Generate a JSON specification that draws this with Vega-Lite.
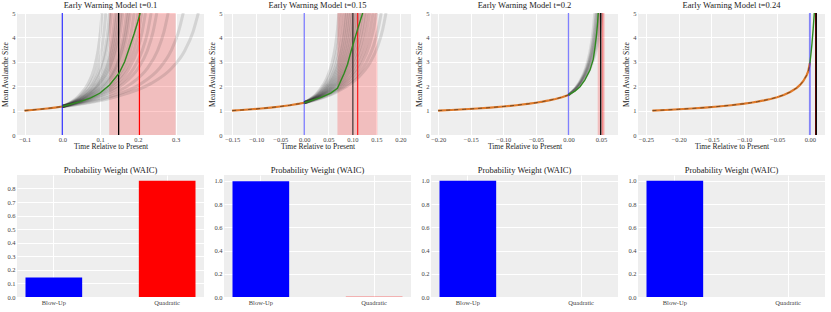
{
"$schema":"https://vega.github.io/schema/vega-lite/v6.json",
"padding":{"left":1,"top":0,"right":2,"bottom":2},
"background":"white",
"config":{
 "view":{"fill":"#EEEEEE","stroke":null},
 "font":"Liberation Serif",
 "axis":{"grid":true,"gridColor":"white","gridWidth":1,"domain":false,"ticks":false,"labelFontSize":6.5,"labelColor":"#444444","titleFontSize":7.5,"titleFontWeight":"normal","titleColor":"#222222","labelPadding":2,"labelOverlap":false,"labelFlush":false,"labelBound":false},
 "title":{"fontSize":8.5,"fontWeight":"normal","offset":1,"color":"#222222"}
},
"datasets":{
 "o1":[{"x":-0.1,"y":1.0},{"x":-0.08,"y":1.0256},{"x":-0.06,"y":1.0543},{"x":-0.04,"y":1.0868},{"x":-0.02,"y":1.1243},{"x":0,"y":1.168}],
 "o2":[{"x":-0.15,"y":1.0},{"x":-0.13,"y":1.0256},{"x":-0.11,"y":1.0543},{"x":-0.09,"y":1.0868},{"x":-0.07,"y":1.1243},{"x":-0.05,"y":1.168},{"x":-0.03,"y":1.2202},{"x":-0.01,"y":1.2843},{"x":0,"y":1.3225}],
 "o3":[{"x":-0.2,"y":1.0},{"x":-0.18,"y":1.0256},{"x":-0.16,"y":1.0543},{"x":-0.14,"y":1.0868},{"x":-0.12,"y":1.1243},{"x":-0.1,"y":1.168},{"x":-0.08,"y":1.2202},{"x":-0.06,"y":1.2843},{"x":-0.05,"y":1.3225},{"x":-0.04,"y":1.366},{"x":-0.03,"y":1.4167},{"x":-0.02,"y":1.4767},{"x":-0.01,"y":1.5494},{"x":0,"y":1.6408}],
 "o4":[{"x":-0.24,"y":1.0},{"x":-0.22,"y":1.0256},{"x":-0.2,"y":1.0543},{"x":-0.18,"y":1.0868},{"x":-0.16,"y":1.1243},{"x":-0.14,"y":1.168},{"x":-0.12,"y":1.2202},{"x":-0.1,"y":1.2843},{"x":-0.09,"y":1.3225},{"x":-0.08,"y":1.366},{"x":-0.07,"y":1.4167},{"x":-0.06,"y":1.4767},{"x":-0.05,"y":1.5494},{"x":-0.04,"y":1.6408},{"x":-0.03,"y":1.7615},{"x":-0.02,"y":1.9332},{"x":-0.015,"y":2.0533},{"x":-0.01,"y":2.2139},{"x":-0.005,"y":2.4491},{"x":-0.0025,"y":2.6185},{"x":0,"y":2.95}],
 "g1":[{"x":0,"y":1.168},{"x":0.047,"y":1.37},{"x":0.075,"y":1.52},{"x":0.099,"y":1.71},{"x":0.125,"y":2.05},{"x":0.15,"y":2.53},{"x":0.165,"y":3.0},{"x":0.178,"y":3.6},{"x":0.19,"y":4.15},{"x":0.2,"y":4.65},{"x":0.206,"y":5.0}],
 "g2":[{"x":0,"y":1.3225},{"x":0.035,"y":1.54},{"x":0.055,"y":1.72},{"x":0.069,"y":1.91},{"x":0.083,"y":2.53},{"x":0.09,"y":2.9},{"x":0.097,"y":3.41},{"x":0.105,"y":3.95},{"x":0.112,"y":4.4},{"x":0.1215,"y":5.0}],
 "g3":[{"x":0,"y":1.6408},{"x":0.01,"y":1.8},{"x":0.0177,"y":1.98},{"x":0.025,"y":2.25},{"x":0.033,"y":2.66},{"x":0.038,"y":3.1},{"x":0.0407,"y":3.6},{"x":0.043,"y":4.1},{"x":0.0447,"y":4.6},{"x":0.0457,"y":5.0}],
 "g4":[{"x":0,"y":2.95},{"x":0.0015,"y":3.3},{"x":0.0032,"y":3.76},{"x":0.005,"y":4.35},{"x":0.0067,"y":5.0}],
 "f1":[
{"s":1,"x":0,"y":1.168},{"s":1,"x":0.042,"y":1.579},{"s":1,"x":0.06825,"y":2.104},{"s":1,"x":0.084,"y":2.713},{"s":1,"x":0.0945,"y":3.454},{"s":1,"x":0.1008,"y":4.213},{"s":1,"x":0.105,"y":5.0},
{"s":2,"x":0,"y":1.168},{"s":2,"x":0.046,"y":1.579},{"s":2,"x":0.07475,"y":2.104},{"s":2,"x":0.092,"y":2.713},{"s":2,"x":0.1035,"y":3.454},{"s":2,"x":0.1104,"y":4.213},{"s":2,"x":0.115,"y":5.0},
{"s":3,"x":0,"y":1.168},{"s":3,"x":0.05,"y":1.579},{"s":3,"x":0.08125,"y":2.104},{"s":3,"x":0.1,"y":2.713},{"s":3,"x":0.1125,"y":3.454},{"s":3,"x":0.12,"y":4.213},{"s":3,"x":0.125,"y":5.0},
{"s":4,"x":0,"y":1.168},{"s":4,"x":0.052,"y":1.579},{"s":4,"x":0.0845,"y":2.104},{"s":4,"x":0.104,"y":2.713},{"s":4,"x":0.117,"y":3.454},{"s":4,"x":0.1248,"y":4.213},{"s":4,"x":0.13,"y":5.0},
{"s":5,"x":0,"y":1.168},{"s":5,"x":0.056,"y":1.579},{"s":5,"x":0.091,"y":2.104},{"s":5,"x":0.112,"y":2.713},{"s":5,"x":0.126,"y":3.454},{"s":5,"x":0.1344,"y":4.213},{"s":5,"x":0.14,"y":5.0},
{"s":6,"x":0,"y":1.168},{"s":6,"x":0.058,"y":1.579},{"s":6,"x":0.09425,"y":2.104},{"s":6,"x":0.116,"y":2.713},{"s":6,"x":0.1305,"y":3.454},{"s":6,"x":0.1392,"y":4.213},{"s":6,"x":0.145,"y":5.0},
{"s":7,"x":0,"y":1.168},{"s":7,"x":0.06,"y":1.579},{"s":7,"x":0.0975,"y":2.104},{"s":7,"x":0.12,"y":2.713},{"s":7,"x":0.135,"y":3.454},{"s":7,"x":0.144,"y":4.213},{"s":7,"x":0.15,"y":5.0},
{"s":8,"x":0,"y":1.168},{"s":8,"x":0.062,"y":1.579},{"s":8,"x":0.10075,"y":2.104},{"s":8,"x":0.124,"y":2.713},{"s":8,"x":0.1395,"y":3.454},{"s":8,"x":0.1488,"y":4.213},{"s":8,"x":0.155,"y":5.0},
{"s":9,"x":0,"y":1.168},{"s":9,"x":0.064,"y":1.579},{"s":9,"x":0.104,"y":2.104},{"s":9,"x":0.128,"y":2.713},{"s":9,"x":0.144,"y":3.454},{"s":9,"x":0.1536,"y":4.213},{"s":9,"x":0.16,"y":5.0},
{"s":10,"x":0,"y":1.168},{"s":10,"x":0.068,"y":1.579},{"s":10,"x":0.1105,"y":2.104},{"s":10,"x":0.136,"y":2.713},{"s":10,"x":0.153,"y":3.454},{"s":10,"x":0.1632,"y":4.213},{"s":10,"x":0.17,"y":5.0},
{"s":11,"x":0,"y":1.168},{"s":11,"x":0.07,"y":1.579},{"s":11,"x":0.11375,"y":2.104},{"s":11,"x":0.14,"y":2.713},{"s":11,"x":0.1575,"y":3.454},{"s":11,"x":0.168,"y":4.213},{"s":11,"x":0.175,"y":5.0},
{"s":12,"x":0,"y":1.168},{"s":12,"x":0.072,"y":1.579},{"s":12,"x":0.117,"y":2.104},{"s":12,"x":0.144,"y":2.713},{"s":12,"x":0.162,"y":3.454},{"s":12,"x":0.1728,"y":4.213},{"s":12,"x":0.18,"y":5.0},
{"s":13,"x":0,"y":1.168},{"s":13,"x":0.076,"y":1.579},{"s":13,"x":0.1235,"y":2.104},{"s":13,"x":0.152,"y":2.713},{"s":13,"x":0.171,"y":3.454},{"s":13,"x":0.1824,"y":4.213},{"s":13,"x":0.19,"y":5.0},
{"s":14,"x":0,"y":1.168},{"s":14,"x":0.08,"y":1.579},{"s":14,"x":0.13,"y":2.104},{"s":14,"x":0.16,"y":2.713},{"s":14,"x":0.18,"y":3.454},{"s":14,"x":0.192,"y":4.213},{"s":14,"x":0.2,"y":5.0},
{"s":15,"x":0,"y":1.168},{"s":15,"x":0.084,"y":1.579},{"s":15,"x":0.1365,"y":2.104},{"s":15,"x":0.168,"y":2.713},{"s":15,"x":0.189,"y":3.454},{"s":15,"x":0.2016,"y":4.213},{"s":15,"x":0.21,"y":5.0},
{"s":16,"x":0,"y":1.168},{"s":16,"x":0.088,"y":1.579},{"s":16,"x":0.143,"y":2.104},{"s":16,"x":0.176,"y":2.713},{"s":16,"x":0.198,"y":3.454},{"s":16,"x":0.2112,"y":4.213},{"s":16,"x":0.22,"y":5.0},
{"s":17,"x":0,"y":1.168},{"s":17,"x":0.094,"y":1.579},{"s":17,"x":0.15275,"y":2.104},{"s":17,"x":0.188,"y":2.713},{"s":17,"x":0.2115,"y":3.454},{"s":17,"x":0.2256,"y":4.213},{"s":17,"x":0.235,"y":5.0},
{"s":18,"x":0,"y":1.168},{"s":18,"x":0.1,"y":1.579},{"s":18,"x":0.1625,"y":2.104},{"s":18,"x":0.2,"y":2.713},{"s":18,"x":0.225,"y":3.454},{"s":18,"x":0.24,"y":4.213},{"s":18,"x":0.25,"y":5.0},
{"s":19,"x":0,"y":1.168},{"s":19,"x":0.112,"y":1.579},{"s":19,"x":0.182,"y":2.104},{"s":19,"x":0.224,"y":2.713},{"s":19,"x":0.252,"y":3.454},{"s":19,"x":0.2688,"y":4.213},{"s":19,"x":0.28,"y":5.0},
{"s":20,"x":0,"y":1.168},{"s":20,"x":0.128,"y":1.579},{"s":20,"x":0.208,"y":2.104},{"s":20,"x":0.256,"y":2.713},{"s":20,"x":0.288,"y":3.454},{"s":20,"x":0.3072,"y":4.213},{"s":20,"x":0.32,"y":5.0},
{"s":21,"x":0,"y":1.168},{"s":21,"x":0.144,"y":1.579},{"s":21,"x":0.234,"y":2.104},{"s":21,"x":0.288,"y":2.713},{"s":21,"x":0.324,"y":3.454},{"s":21,"x":0.3456,"y":4.213},{"s":21,"x":0.36,"y":5.0}
 ],
 "f2":[
{"s":1,"x":0,"y":1.3225},{"s":1,"x":0.0288,"y":1.769},{"s":1,"x":0.0468,"y":2.323},{"s":1,"x":0.0576,"y":2.938},{"s":1,"x":0.0648,"y":3.649},{"s":1,"x":0.06912,"y":4.332},{"s":1,"x":0.072,"y":5.0},
{"s":2,"x":0,"y":1.3225},{"s":2,"x":0.0312,"y":1.769},{"s":2,"x":0.0507,"y":2.323},{"s":2,"x":0.0624,"y":2.938},{"s":2,"x":0.0702,"y":3.649},{"s":2,"x":0.07488,"y":4.332},{"s":2,"x":0.078,"y":5.0},
{"s":3,"x":0,"y":1.3225},{"s":3,"x":0.0336,"y":1.769},{"s":3,"x":0.0546,"y":2.323},{"s":3,"x":0.0672,"y":2.938},{"s":3,"x":0.0756,"y":3.649},{"s":3,"x":0.08064,"y":4.332},{"s":3,"x":0.084,"y":5.0},
{"s":4,"x":0,"y":1.3225},{"s":4,"x":0.0352,"y":1.769},{"s":4,"x":0.0572,"y":2.323},{"s":4,"x":0.0704,"y":2.938},{"s":4,"x":0.0792,"y":3.649},{"s":4,"x":0.08448,"y":4.332},{"s":4,"x":0.088,"y":5.0},
{"s":5,"x":0,"y":1.3225},{"s":5,"x":0.0368,"y":1.769},{"s":5,"x":0.0598,"y":2.323},{"s":5,"x":0.0736,"y":2.938},{"s":5,"x":0.0828,"y":3.649},{"s":5,"x":0.08832,"y":4.332},{"s":5,"x":0.092,"y":5.0},
{"s":6,"x":0,"y":1.3225},{"s":6,"x":0.0384,"y":1.769},{"s":6,"x":0.0624,"y":2.323},{"s":6,"x":0.0768,"y":2.938},{"s":6,"x":0.0864,"y":3.649},{"s":6,"x":0.09216,"y":4.332},{"s":6,"x":0.096,"y":5.0},
{"s":7,"x":0,"y":1.3225},{"s":7,"x":0.04,"y":1.769},{"s":7,"x":0.065,"y":2.323},{"s":7,"x":0.08,"y":2.938},{"s":7,"x":0.09,"y":3.649},{"s":7,"x":0.096,"y":4.332},{"s":7,"x":0.1,"y":5.0},
{"s":8,"x":0,"y":1.3225},{"s":8,"x":0.0416,"y":1.769},{"s":8,"x":0.0676,"y":2.323},{"s":8,"x":0.0832,"y":2.938},{"s":8,"x":0.0936,"y":3.649},{"s":8,"x":0.09984,"y":4.332},{"s":8,"x":0.104,"y":5.0},
{"s":9,"x":0,"y":1.3225},{"s":9,"x":0.0432,"y":1.769},{"s":9,"x":0.0702,"y":2.323},{"s":9,"x":0.0864,"y":2.938},{"s":9,"x":0.0972,"y":3.649},{"s":9,"x":0.10368,"y":4.332},{"s":9,"x":0.108,"y":5.0},
{"s":10,"x":0,"y":1.3225},{"s":10,"x":0.0448,"y":1.769},{"s":10,"x":0.0728,"y":2.323},{"s":10,"x":0.0896,"y":2.938},{"s":10,"x":0.1008,"y":3.649},{"s":10,"x":0.10752,"y":4.332},{"s":10,"x":0.112,"y":5.0},
{"s":11,"x":0,"y":1.3225},{"s":11,"x":0.0464,"y":1.769},{"s":11,"x":0.0754,"y":2.323},{"s":11,"x":0.0928,"y":2.938},{"s":11,"x":0.1044,"y":3.649},{"s":11,"x":0.11136,"y":4.332},{"s":11,"x":0.116,"y":5.0},
{"s":12,"x":0,"y":1.3225},{"s":12,"x":0.048,"y":1.769},{"s":12,"x":0.078,"y":2.323},{"s":12,"x":0.096,"y":2.938},{"s":12,"x":0.108,"y":3.649},{"s":12,"x":0.1152,"y":4.332},{"s":12,"x":0.12,"y":5.0},
{"s":13,"x":0,"y":1.3225},{"s":13,"x":0.05,"y":1.769},{"s":13,"x":0.08125,"y":2.323},{"s":13,"x":0.1,"y":2.938},{"s":13,"x":0.1125,"y":3.649},{"s":13,"x":0.12,"y":4.332},{"s":13,"x":0.125,"y":5.0},
{"s":14,"x":0,"y":1.3225},{"s":14,"x":0.052,"y":1.769},{"s":14,"x":0.0845,"y":2.323},{"s":14,"x":0.104,"y":2.938},{"s":14,"x":0.117,"y":3.649},{"s":14,"x":0.1248,"y":4.332},{"s":14,"x":0.13,"y":5.0},
{"s":15,"x":0,"y":1.3225},{"s":15,"x":0.0544,"y":1.769},{"s":15,"x":0.0884,"y":2.323},{"s":15,"x":0.1088,"y":2.938},{"s":15,"x":0.1224,"y":3.649},{"s":15,"x":0.13056,"y":4.332},{"s":15,"x":0.136,"y":5.0},
{"s":16,"x":0,"y":1.3225},{"s":16,"x":0.0572,"y":1.769},{"s":16,"x":0.09295,"y":2.323},{"s":16,"x":0.1144,"y":2.938},{"s":16,"x":0.1287,"y":3.649},{"s":16,"x":0.13728,"y":4.332},{"s":16,"x":0.143,"y":5.0},
{"s":17,"x":0,"y":1.3225},{"s":17,"x":0.06,"y":1.769},{"s":17,"x":0.0975,"y":2.323},{"s":17,"x":0.12,"y":2.938},{"s":17,"x":0.135,"y":3.649},{"s":17,"x":0.144,"y":4.332},{"s":17,"x":0.15,"y":5.0},
{"s":18,"x":0,"y":1.3225},{"s":18,"x":0.064,"y":1.769},{"s":18,"x":0.104,"y":2.323},{"s":18,"x":0.128,"y":2.938},{"s":18,"x":0.144,"y":3.649},{"s":18,"x":0.1536,"y":4.332},{"s":18,"x":0.16,"y":5.0},
{"s":19,"x":0,"y":1.3225},{"s":19,"x":0.068,"y":1.769},{"s":19,"x":0.1105,"y":2.323},{"s":19,"x":0.136,"y":2.938},{"s":19,"x":0.153,"y":3.649},{"s":19,"x":0.1632,"y":4.332},{"s":19,"x":0.17,"y":5.0}
 ],
 "f3":[
{"s":1,"x":0,"y":1.6408},{"s":1,"x":0.016,"y":2.146},{"s":1,"x":0.026,"y":2.735},{"s":1,"x":0.032,"y":3.338},{"s":1,"x":0.036,"y":3.97},{"s":1,"x":0.0384,"y":4.519},{"s":1,"x":0.04,"y":5.0},
{"s":2,"x":0,"y":1.6408},{"s":2,"x":0.0168,"y":2.146},{"s":2,"x":0.0273,"y":2.735},{"s":2,"x":0.0336,"y":3.338},{"s":2,"x":0.0378,"y":3.97},{"s":2,"x":0.04032,"y":4.519},{"s":2,"x":0.042,"y":5.0},
{"s":3,"x":0,"y":1.6408},{"s":3,"x":0.0172,"y":2.146},{"s":3,"x":0.02795,"y":2.735},{"s":3,"x":0.0344,"y":3.338},{"s":3,"x":0.0387,"y":3.97},{"s":3,"x":0.04128,"y":4.519},{"s":3,"x":0.043,"y":5.0},
{"s":4,"x":0,"y":1.6408},{"s":4,"x":0.0176,"y":2.146},{"s":4,"x":0.0286,"y":2.735},{"s":4,"x":0.0352,"y":3.338},{"s":4,"x":0.0396,"y":3.97},{"s":4,"x":0.04224,"y":4.519},{"s":4,"x":0.044,"y":5.0},
{"s":5,"x":0,"y":1.6408},{"s":5,"x":0.018,"y":2.146},{"s":5,"x":0.02925,"y":2.735},{"s":5,"x":0.036,"y":3.338},{"s":5,"x":0.0405,"y":3.97},{"s":5,"x":0.0432,"y":4.519},{"s":5,"x":0.045,"y":5.0},
{"s":6,"x":0,"y":1.6408},{"s":6,"x":0.0184,"y":2.146},{"s":6,"x":0.0299,"y":2.735},{"s":6,"x":0.0368,"y":3.338},{"s":6,"x":0.0414,"y":3.97},{"s":6,"x":0.04416,"y":4.519},{"s":6,"x":0.046,"y":5.0},
{"s":7,"x":0,"y":1.6408},{"s":7,"x":0.0188,"y":2.146},{"s":7,"x":0.03055,"y":2.735},{"s":7,"x":0.0376,"y":3.338},{"s":7,"x":0.0423,"y":3.97},{"s":7,"x":0.04512,"y":4.519},{"s":7,"x":0.047,"y":5.0},
{"s":8,"x":0,"y":1.6408},{"s":8,"x":0.0192,"y":2.146},{"s":8,"x":0.0312,"y":2.735},{"s":8,"x":0.0384,"y":3.338},{"s":8,"x":0.0432,"y":3.97},{"s":8,"x":0.04608,"y":4.519},{"s":8,"x":0.048,"y":5.0},
{"s":9,"x":0,"y":1.6408},{"s":9,"x":0.02,"y":2.146},{"s":9,"x":0.0325,"y":2.735},{"s":9,"x":0.04,"y":3.338},{"s":9,"x":0.045,"y":3.97},{"s":9,"x":0.048,"y":4.519},{"s":9,"x":0.05,"y":5.0},
{"s":10,"x":0,"y":1.6408},{"s":10,"x":0.0208,"y":2.146},{"s":10,"x":0.0338,"y":2.735},{"s":10,"x":0.0416,"y":3.338},{"s":10,"x":0.0468,"y":3.97},{"s":10,"x":0.04992,"y":4.519},{"s":10,"x":0.052,"y":5.0}
 ]
},
"spacing":15,
"vconcat":[
{"hconcat":[
 {"width":187,"height":122,"title":"Early Warning Model t=0.1",
  "layer":[
   {"data":{"values":[{"x":0.124,"xe":0.3}]},"mark":{"type":"rect","color":"red","opacity":0.2},
    "encoding":{"x":{"field":"x","type":"quantitative","scale":{"domain":[-0.12,0.375],"nice":false,"zero":false},"axis":{"title":"Time Relative to Present","values":[-0.1,0,0.1,0.2,0.3],"format":".1f","titlePadding":0,"labelPadding":1,"labelOverlap":false}},"x2":{"field":"xe"},
     "y":{"datum":0,"type":"quantitative","scale":{"domain":[0,5],"nice":false},"axis":{"title":"Mean Avalanche Size","values":[0,1,2,3,4,5],"titlePadding":2,"labelOverlap":false}},"y2":{"datum":5}}},
   {"data":{"name":"f1"},"mark":{"type":"line","color":"#333333","opacity":0.14,"strokeWidth":3,"interpolate":"monotone","clip":true},
    "encoding":{"x":{"field":"x","type":"quantitative","scale":{"domain":[-0.12,0.375],"nice":false,"zero":false},"axis":{"title":"Time Relative to Present","values":[-0.1,0,0.1,0.2,0.3],"format":".1f","titlePadding":0,"labelPadding":1,"labelOverlap":false}},
     "y":{"field":"y","type":"quantitative","scale":{"domain":[0,5],"nice":false},"axis":{"title":"Mean Avalanche Size","values":[0,1,2,3,4,5],"titlePadding":2,"labelOverlap":false}},"detail":{"field":"s"}}},
   {"data":{"name":"o1"},"mark":{"type":"line","color":"#e07a2a","strokeWidth":2.2},
    "encoding":{"x":{"field":"x","type":"quantitative","scale":{"domain":[-0.12,0.375],"nice":false,"zero":false},"axis":{"title":"Time Relative to Present","values":[-0.1,0,0.1,0.2,0.3],"format":".1f","titlePadding":0,"labelPadding":1,"labelOverlap":false}},
     "y":{"field":"y","type":"quantitative","scale":{"domain":[0,5],"nice":false},"axis":{"title":"Mean Avalanche Size","values":[0,1,2,3,4,5],"titlePadding":2,"labelOverlap":false}}}},
   {"data":{"name":"o1"},"mark":{"type":"line","color":"#7a4a20","strokeWidth":1,"strokeDash":[4,4]},
    "encoding":{"x":{"field":"x","type":"quantitative","scale":{"domain":[-0.12,0.375],"nice":false,"zero":false},"axis":{"title":"Time Relative to Present","values":[-0.1,0,0.1,0.2,0.3],"format":".1f","titlePadding":0,"labelPadding":1,"labelOverlap":false}},
     "y":{"field":"y","type":"quantitative","scale":{"domain":[0,5],"nice":false},"axis":{"title":"Mean Avalanche Size","values":[0,1,2,3,4,5],"titlePadding":2,"labelOverlap":false}}}},
   {"data":{"values":[{"x":0}]},"mark":{"type":"rule","color":"blue","opacity":0.75,"strokeWidth":1.3},
    "encoding":{"x":{"field":"x","type":"quantitative","scale":{"domain":[-0.12,0.375],"nice":false,"zero":false},"axis":{"title":"Time Relative to Present","values":[-0.1,0,0.1,0.2,0.3],"format":".1f","titlePadding":0,"labelPadding":1,"labelOverlap":false}}}},
   {"data":{"values":[{"x":0.149}]},"mark":{"type":"rule","color":"black","strokeWidth":1.3},
    "encoding":{"x":{"field":"x","type":"quantitative","scale":{"domain":[-0.12,0.375],"nice":false,"zero":false},"axis":{"title":"Time Relative to Present","values":[-0.1,0,0.1,0.2,0.3],"format":".1f","titlePadding":0,"labelPadding":1,"labelOverlap":false}}}},
   {"data":{"values":[{"x":0.204}]},"mark":{"type":"rule","color":"red","strokeWidth":1.3},
    "encoding":{"x":{"field":"x","type":"quantitative","scale":{"domain":[-0.12,0.375],"nice":false,"zero":false},"axis":{"title":"Time Relative to Present","values":[-0.1,0,0.1,0.2,0.3],"format":".1f","titlePadding":0,"labelPadding":1,"labelOverlap":false}}}},
   {"data":{"name":"g1"},"mark":{"type":"line","color":"#2f8a1f","strokeWidth":1.4,"clip":true},
    "encoding":{"x":{"field":"x","type":"quantitative","scale":{"domain":[-0.12,0.375],"nice":false,"zero":false},"axis":{"title":"Time Relative to Present","values":[-0.1,0,0.1,0.2,0.3],"format":".1f","titlePadding":0,"labelPadding":1,"labelOverlap":false}},
     "y":{"field":"y","type":"quantitative","scale":{"domain":[0,5],"nice":false},"axis":{"title":"Mean Avalanche Size","values":[0,1,2,3,4,5],"titlePadding":2,"labelOverlap":false}}}}
  ]},
 {"width":187,"height":122,"title":"Early Warning Model t=0.15",
  "layer":[
   {"data":{"values":[{"x":0.069,"xe":0.152}]},"mark":{"type":"rect","color":"red","opacity":0.2},
    "encoding":{"x":{"field":"x","type":"quantitative","scale":{"domain":[-0.167,0.222],"nice":false,"zero":false},"axis":{"title":"Time Relative to Present","values":[-0.15,-0.1,-0.05,0,0.05,0.1,0.15,0.2],"format":".2f","titlePadding":0,"labelPadding":1,"labelOverlap":false}},"x2":{"field":"xe"},
     "y":{"datum":0,"type":"quantitative","scale":{"domain":[0,5],"nice":false},"axis":{"title":"Mean Avalanche Size","values":[0,1,2,3,4,5],"titlePadding":2,"labelOverlap":false}},"y2":{"datum":5}}},
   {"data":{"name":"f2"},"mark":{"type":"line","color":"#333333","opacity":0.14,"strokeWidth":3,"interpolate":"monotone","clip":true},
    "encoding":{"x":{"field":"x","type":"quantitative","scale":{"domain":[-0.167,0.222],"nice":false,"zero":false},"axis":{"title":"Time Relative to Present","values":[-0.15,-0.1,-0.05,0,0.05,0.1,0.15,0.2],"format":".2f","titlePadding":0,"labelPadding":1,"labelOverlap":false}},
     "y":{"field":"y","type":"quantitative","scale":{"domain":[0,5],"nice":false},"axis":{"title":"Mean Avalanche Size","values":[0,1,2,3,4,5],"titlePadding":2,"labelOverlap":false}},"detail":{"field":"s"}}},
   {"data":{"name":"o2"},"mark":{"type":"line","color":"#e07a2a","strokeWidth":2.2},
    "encoding":{"x":{"field":"x","type":"quantitative","scale":{"domain":[-0.167,0.222],"nice":false,"zero":false},"axis":{"title":"Time Relative to Present","values":[-0.15,-0.1,-0.05,0,0.05,0.1,0.15,0.2],"format":".2f","titlePadding":0,"labelPadding":1,"labelOverlap":false}},
     "y":{"field":"y","type":"quantitative","scale":{"domain":[0,5],"nice":false},"axis":{"title":"Mean Avalanche Size","values":[0,1,2,3,4,5],"titlePadding":2,"labelOverlap":false}}}},
   {"data":{"name":"o2"},"mark":{"type":"line","color":"#7a4a20","strokeWidth":1,"strokeDash":[4,4]},
    "encoding":{"x":{"field":"x","type":"quantitative","scale":{"domain":[-0.167,0.222],"nice":false,"zero":false},"axis":{"title":"Time Relative to Present","values":[-0.15,-0.1,-0.05,0,0.05,0.1,0.15,0.2],"format":".2f","titlePadding":0,"labelPadding":1,"labelOverlap":false}},
     "y":{"field":"y","type":"quantitative","scale":{"domain":[0,5],"nice":false},"axis":{"title":"Mean Avalanche Size","values":[0,1,2,3,4,5],"titlePadding":2,"labelOverlap":false}}}},
   {"data":{"values":[{"x":0}]},"mark":{"type":"rule","color":"blue","opacity":0.5,"strokeWidth":1.3},
    "encoding":{"x":{"field":"x","type":"quantitative","scale":{"domain":[-0.167,0.222],"nice":false,"zero":false},"axis":{"title":"Time Relative to Present","values":[-0.15,-0.1,-0.05,0,0.05,0.1,0.15,0.2],"format":".2f","titlePadding":0,"labelPadding":1,"labelOverlap":false}}}},
   {"data":{"values":[{"x":0.101}]},"mark":{"type":"rule","color":"black","opacity":0.7,"strokeWidth":1.3},
    "encoding":{"x":{"field":"x","type":"quantitative","scale":{"domain":[-0.167,0.222],"nice":false,"zero":false},"axis":{"title":"Time Relative to Present","values":[-0.15,-0.1,-0.05,0,0.05,0.1,0.15,0.2],"format":".2f","titlePadding":0,"labelPadding":1,"labelOverlap":false}}}},
   {"data":{"values":[{"x":0.111}]},"mark":{"type":"rule","color":"red","opacity":0.8,"strokeWidth":1.3},
    "encoding":{"x":{"field":"x","type":"quantitative","scale":{"domain":[-0.167,0.222],"nice":false,"zero":false},"axis":{"title":"Time Relative to Present","values":[-0.15,-0.1,-0.05,0,0.05,0.1,0.15,0.2],"format":".2f","titlePadding":0,"labelPadding":1,"labelOverlap":false}}}},
   {"data":{"name":"g2"},"mark":{"type":"line","color":"#2f8a1f","strokeWidth":1.4,"clip":true},
    "encoding":{"x":{"field":"x","type":"quantitative","scale":{"domain":[-0.167,0.222],"nice":false,"zero":false},"axis":{"title":"Time Relative to Present","values":[-0.15,-0.1,-0.05,0,0.05,0.1,0.15,0.2],"format":".2f","titlePadding":0,"labelPadding":1,"labelOverlap":false}},
     "y":{"field":"y","type":"quantitative","scale":{"domain":[0,5],"nice":false},"axis":{"title":"Mean Avalanche Size","values":[0,1,2,3,4,5],"titlePadding":2,"labelOverlap":false}}}}
  ]},
 {"width":187,"height":122,"title":"Early Warning Model t=0.2",
  "layer":[
   {"data":{"values":[{"x":0.0448,"xe":0.0555}]},"mark":{"type":"rect","color":"red","opacity":0.2},
    "encoding":{"x":{"field":"x","type":"quantitative","scale":{"domain":[-0.211,0.076],"nice":false,"zero":false},"axis":{"title":"Time Relative to Present","values":[-0.2,-0.15,-0.1,-0.05,0,0.05],"format":".2f","titlePadding":0,"labelPadding":1,"labelOverlap":false}},"x2":{"field":"xe"},
     "y":{"datum":0,"type":"quantitative","scale":{"domain":[0,5],"nice":false},"axis":{"title":"Mean Avalanche Size","values":[0,1,2,3,4,5],"titlePadding":2,"labelOverlap":false}},"y2":{"datum":5}}},
   {"data":{"name":"f3"},"mark":{"type":"line","color":"#333333","opacity":0.12,"strokeWidth":2.5,"interpolate":"monotone","clip":true},
    "encoding":{"x":{"field":"x","type":"quantitative","scale":{"domain":[-0.211,0.076],"nice":false,"zero":false},"axis":{"title":"Time Relative to Present","values":[-0.2,-0.15,-0.1,-0.05,0,0.05],"format":".2f","titlePadding":0,"labelPadding":1,"labelOverlap":false}},
     "y":{"field":"y","type":"quantitative","scale":{"domain":[0,5],"nice":false},"axis":{"title":"Mean Avalanche Size","values":[0,1,2,3,4,5],"titlePadding":2,"labelOverlap":false}},"detail":{"field":"s"}}},
   {"data":{"name":"o3"},"mark":{"type":"line","color":"#e07a2a","strokeWidth":2.2},
    "encoding":{"x":{"field":"x","type":"quantitative","scale":{"domain":[-0.211,0.076],"nice":false,"zero":false},"axis":{"title":"Time Relative to Present","values":[-0.2,-0.15,-0.1,-0.05,0,0.05],"format":".2f","titlePadding":0,"labelPadding":1,"labelOverlap":false}},
     "y":{"field":"y","type":"quantitative","scale":{"domain":[0,5],"nice":false},"axis":{"title":"Mean Avalanche Size","values":[0,1,2,3,4,5],"titlePadding":2,"labelOverlap":false}}}},
   {"data":{"name":"o3"},"mark":{"type":"line","color":"#7a4a20","strokeWidth":1,"strokeDash":[4,4]},
    "encoding":{"x":{"field":"x","type":"quantitative","scale":{"domain":[-0.211,0.076],"nice":false,"zero":false},"axis":{"title":"Time Relative to Present","values":[-0.2,-0.15,-0.1,-0.05,0,0.05],"format":".2f","titlePadding":0,"labelPadding":1,"labelOverlap":false}},
     "y":{"field":"y","type":"quantitative","scale":{"domain":[0,5],"nice":false},"axis":{"title":"Mean Avalanche Size","values":[0,1,2,3,4,5],"titlePadding":2,"labelOverlap":false}}}},
   {"data":{"values":[{"x":0}]},"mark":{"type":"rule","color":"blue","opacity":0.5,"strokeWidth":1.3},
    "encoding":{"x":{"field":"x","type":"quantitative","scale":{"domain":[-0.211,0.076],"nice":false,"zero":false},"axis":{"title":"Time Relative to Present","values":[-0.2,-0.15,-0.1,-0.05,0,0.05],"format":".2f","titlePadding":0,"labelPadding":1,"labelOverlap":false}}}},
   {"data":{"values":[{"x":0.0525}]},"mark":{"type":"rule","color":"red","opacity":0.3,"strokeWidth":1.3},
    "encoding":{"x":{"field":"x","type":"quantitative","scale":{"domain":[-0.211,0.076],"nice":false,"zero":false},"axis":{"title":"Time Relative to Present","values":[-0.2,-0.15,-0.1,-0.05,0,0.05],"format":".2f","titlePadding":0,"labelPadding":1,"labelOverlap":false}}}},
   {"data":{"values":[{"x":0.0495}]},"mark":{"type":"rule","color":"black","strokeWidth":1.3},
    "encoding":{"x":{"field":"x","type":"quantitative","scale":{"domain":[-0.211,0.076],"nice":false,"zero":false},"axis":{"title":"Time Relative to Present","values":[-0.2,-0.15,-0.1,-0.05,0,0.05],"format":".2f","titlePadding":0,"labelPadding":1,"labelOverlap":false}}}},
   {"data":{"name":"g3"},"mark":{"type":"line","color":"#2f8a1f","strokeWidth":1.4,"clip":true},
    "encoding":{"x":{"field":"x","type":"quantitative","scale":{"domain":[-0.211,0.076],"nice":false,"zero":false},"axis":{"title":"Time Relative to Present","values":[-0.2,-0.15,-0.1,-0.05,0,0.05],"format":".2f","titlePadding":0,"labelPadding":1,"labelOverlap":false}},
     "y":{"field":"y","type":"quantitative","scale":{"domain":[0,5],"nice":false},"axis":{"title":"Mean Avalanche Size","values":[0,1,2,3,4,5],"titlePadding":2,"labelOverlap":false}}}}
  ]},
 {"width":187,"height":122,"title":"Early Warning Model t=0.24",
  "layer":[
   {"data":{"values":[{"x":0.0085,"xe":0.0105}]},"mark":{"type":"rect","color":"red","opacity":0.2},
    "encoding":{"x":{"field":"x","type":"quantitative","scale":{"domain":[-0.262,0.023],"nice":false,"zero":false},"axis":{"title":"Time Relative to Present","values":[-0.25,-0.2,-0.15,-0.1,-0.05,0],"format":".2f","titlePadding":0,"labelPadding":1,"labelOverlap":false}},"x2":{"field":"xe"},
     "y":{"datum":0,"type":"quantitative","scale":{"domain":[0,5],"nice":false},"axis":{"title":"Mean Avalanche Size","values":[0,1,2,3,4,5],"titlePadding":2,"labelOverlap":false}},"y2":{"datum":5}}},
   {"data":{"name":"o4"},"mark":{"type":"line","color":"#e07a2a","strokeWidth":2.2},
    "encoding":{"x":{"field":"x","type":"quantitative","scale":{"domain":[-0.262,0.023],"nice":false,"zero":false},"axis":{"title":"Time Relative to Present","values":[-0.25,-0.2,-0.15,-0.1,-0.05,0],"format":".2f","titlePadding":0,"labelPadding":1,"labelOverlap":false}},
     "y":{"field":"y","type":"quantitative","scale":{"domain":[0,5],"nice":false},"axis":{"title":"Mean Avalanche Size","values":[0,1,2,3,4,5],"titlePadding":2,"labelOverlap":false}}}},
   {"data":{"name":"o4"},"mark":{"type":"line","color":"#7a4a20","strokeWidth":1,"strokeDash":[4,4]},
    "encoding":{"x":{"field":"x","type":"quantitative","scale":{"domain":[-0.262,0.023],"nice":false,"zero":false},"axis":{"title":"Time Relative to Present","values":[-0.25,-0.2,-0.15,-0.1,-0.05,0],"format":".2f","titlePadding":0,"labelPadding":1,"labelOverlap":false}},
     "y":{"field":"y","type":"quantitative","scale":{"domain":[0,5],"nice":false},"axis":{"title":"Mean Avalanche Size","values":[0,1,2,3,4,5],"titlePadding":2,"labelOverlap":false}}}},
   {"data":{"values":[{"x":0}]},"mark":{"type":"rule","color":"blue","opacity":0.45,"strokeWidth":2},
    "encoding":{"x":{"field":"x","type":"quantitative","scale":{"domain":[-0.262,0.023],"nice":false,"zero":false},"axis":{"title":"Time Relative to Present","values":[-0.25,-0.2,-0.15,-0.1,-0.05,0],"format":".2f","titlePadding":0,"labelPadding":1,"labelOverlap":false}}}},
   {"data":{"values":[{"x":0.0088}]},"mark":{"type":"rule","color":"#8b0000","strokeWidth":1.3},
    "encoding":{"x":{"field":"x","type":"quantitative","scale":{"domain":[-0.262,0.023],"nice":false,"zero":false},"axis":{"title":"Time Relative to Present","values":[-0.25,-0.2,-0.15,-0.1,-0.05,0],"format":".2f","titlePadding":0,"labelPadding":1,"labelOverlap":false}}}},
   {"data":{"values":[{"x":0.0097}]},"mark":{"type":"rule","color":"black","strokeWidth":1.3},
    "encoding":{"x":{"field":"x","type":"quantitative","scale":{"domain":[-0.262,0.023],"nice":false,"zero":false},"axis":{"title":"Time Relative to Present","values":[-0.25,-0.2,-0.15,-0.1,-0.05,0],"format":".2f","titlePadding":0,"labelPadding":1,"labelOverlap":false}}}},
   {"data":{"name":"g4"},"mark":{"type":"line","color":"#2f8a1f","strokeWidth":1.4,"clip":true},
    "encoding":{"x":{"field":"x","type":"quantitative","scale":{"domain":[-0.262,0.023],"nice":false,"zero":false},"axis":{"title":"Time Relative to Present","values":[-0.25,-0.2,-0.15,-0.1,-0.05,0],"format":".2f","titlePadding":0,"labelPadding":1,"labelOverlap":false}},
     "y":{"field":"y","type":"quantitative","scale":{"domain":[0,5],"nice":false},"axis":{"title":"Mean Avalanche Size","values":[0,1,2,3,4,5],"titlePadding":2,"labelOverlap":false}}}}
  ]}
],"spacing":20,"bounds":"flush"},
{"hconcat":[
 {"width":187,"height":122,"title":"Probability Weight (WAIC)",
  "data":{"values":[{"m":"Blow-Up","w":0.144},{"m":"Quadratic","w":0.856}]},
  "mark":{"type":"bar"},
  "encoding":{"x":{"field":"m","type":"nominal","scale":{"paddingInner":0.5,"paddingOuter":0.075},"axis":{"title":null,"labelAngle":0,"grid":true}},
   "y":{"field":"w","type":"quantitative","scale":{"domain":[0,0.899],"nice":false},"axis":{"title":null,"values":[0,0.1,0.2,0.3,0.4,0.5,0.6,0.7,0.8],"format":".1f","labelOverlap":false}},
   "color":{"field":"m","type":"nominal","scale":{"domain":["Blow-Up","Quadratic"],"range":["blue","red"]},"legend":null}}},
 {"width":187,"height":122,"title":"Probability Weight (WAIC)",
  "data":{"values":[{"m":"Blow-Up","w":0.997},{"m":"Quadratic","w":0.003}]},
  "mark":{"type":"bar"},
  "encoding":{"x":{"field":"m","type":"nominal","scale":{"paddingInner":0.5,"paddingOuter":0.075},"axis":{"title":null,"labelAngle":0,"grid":true}},
   "y":{"field":"w","type":"quantitative","scale":{"domain":[0,1.05],"nice":false},"axis":{"title":null,"values":[0,0.2,0.4,0.6,0.8,1.0],"format":".1f","labelOverlap":false}},
   "color":{"field":"m","type":"nominal","scale":{"domain":["Blow-Up","Quadratic"],"range":["blue","red"]},"legend":null}}},
 {"width":187,"height":122,"title":"Probability Weight (WAIC)",
  "data":{"values":[{"m":"Blow-Up","w":1.0},{"m":"Quadratic","w":0.0}]},
  "mark":{"type":"bar"},
  "encoding":{"x":{"field":"m","type":"nominal","scale":{"paddingInner":0.5,"paddingOuter":0.075},"axis":{"title":null,"labelAngle":0,"grid":true}},
   "y":{"field":"w","type":"quantitative","scale":{"domain":[0,1.05],"nice":false},"axis":{"title":null,"values":[0,0.2,0.4,0.6,0.8,1.0],"format":".1f","labelOverlap":false}},
   "color":{"field":"m","type":"nominal","scale":{"domain":["Blow-Up","Quadratic"],"range":["blue","red"]},"legend":null}}},
 {"width":187,"height":122,"title":"Probability Weight (WAIC)",
  "data":{"values":[{"m":"Blow-Up","w":1.0},{"m":"Quadratic","w":0.0}]},
  "mark":{"type":"bar"},
  "encoding":{"x":{"field":"m","type":"nominal","scale":{"paddingInner":0.5,"paddingOuter":0.075},"axis":{"title":null,"labelAngle":0,"grid":true}},
   "y":{"field":"w","type":"quantitative","scale":{"domain":[0,1.05],"nice":false},"axis":{"title":null,"values":[0,0.2,0.4,0.6,0.8,1.0],"format":".1f","labelOverlap":false}},
   "color":{"field":"m","type":"nominal","scale":{"domain":["Blow-Up","Quadratic"],"range":["blue","red"]},"legend":null}}}
],"spacing":20,"bounds":"flush"}
]
}
